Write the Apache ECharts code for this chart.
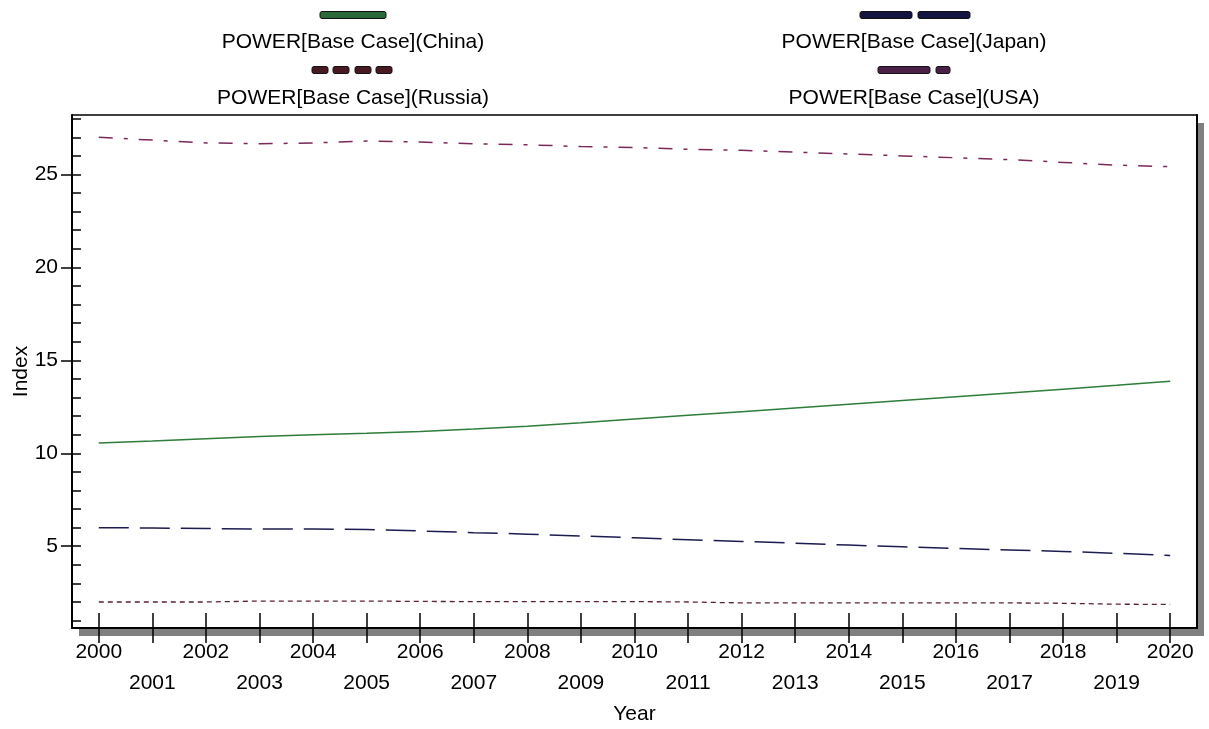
<!DOCTYPE html>
<html>
<head>
<meta charset="utf-8">
<script src="https://cdn.jsdelivr.net/npm/echarts@6/dist/echarts.min.js"></script>
<style>
html,body{margin:0;padding:0;background:#fff;}
#chart{width:1209px;height:729px;}
</style>
</head>
<body>
<div id="chart"></div>
<script>
const years = ['2000','2001','2002','2003','2004','2005','2006','2007','2008','2009','2010','2011','2012','2013','2014','2015','2016','2017','2018','2019','2020'];
const china = [10.55,10.66,10.78,10.9,11.0,11.08,11.17,11.3,11.46,11.64,11.84,12.04,12.24,12.44,12.64,12.84,13.04,13.24,13.45,13.66,13.88];
const japan = [6.0,5.98,5.95,5.93,5.92,5.9,5.82,5.73,5.65,5.55,5.45,5.35,5.26,5.16,5.06,4.97,4.88,4.8,4.72,4.62,4.5];
const russia = [2.0,2.0,2.0,2.05,2.05,2.05,2.03,2.02,2.02,2.02,2.02,2.0,1.95,1.95,1.95,1.95,1.95,1.95,1.93,1.88,1.87];
const usa = [27.0,26.85,26.7,26.65,26.7,26.8,26.75,26.65,26.6,26.5,26.45,26.35,26.3,26.2,26.1,26.0,25.9,25.8,25.65,25.5,25.42];
const seriesNames = ['POWER[Base Case](China)','POWER[Base Case](Japan)','POWER[Base Case](Russia)','POWER[Base Case](USA)'];
const yMajor = [5,10,15,20,25];
const yMinor = [1,2,3,4,5,6,7,8,9,10,11,12,13,14,15,16,17,18,19,20,21,22,23,24,25,26,27,28];

const FONT = 'Liberation Sans, Arial, sans-serif';
const FS = 21;
const chart = echarts.init(document.getElementById('chart'), null, {renderer:'canvas'});

const yMin = 0.6, yMax = 28.2;

function legendText(x, y, t){
  return {type:'text', x:x, y:y, style:{text:t, font:FS + 'px ' + FONT, fill:'#000', align:'center', verticalAlign:'middle'}};
}
function legendBar(x, y, w, color){
  return {type:'rect', shape:{x:x, y:y-3.5, width:w, height:7, r:2}, style:{fill:color, stroke:'#111', lineWidth:1}};
}

const option = {
  backgroundColor:'#fff',
  animation:false,
  textStyle:{fontFamily:FONT},
  grid:{left:72, right:12, top:115, bottom:101, show:true, backgroundColor:'#fff', borderWidth:0,
        shadowColor:'#808080', shadowBlur:0, shadowOffsetX:7, shadowOffsetY:8, containLabel:false,
        outerBoundsMode:'none'},
  xAxis:[
    {type:'category', data:years, boundaryGap:true, position:'bottom',
     axisLine:{show:true, lineStyle:{color:'#000', width:2}},
     axisTick:{show:true, alignWithLabel:true, interval:0, length:15, inside:false, lineStyle:{color:'#000', width:1.5}},
     axisLabel:{interval:0, fontSize:FS, color:'#000', fontFamily:FONT, margin:9, lineHeight:31,
       formatter:function(v, i){ return (i % 2) ? '\n' + v : v; }},
     splitLine:{show:false},
     name:'Year', nameLocation:'middle', nameGap:73, nameTextStyle:{fontSize:FS, color:'#000', fontFamily:FONT}},
    {type:'category', data:years, boundaryGap:true, position:'bottom',
     axisLine:{show:false},
     axisTick:{show:true, alignWithLabel:true, interval:0, length:15, inside:true, lineStyle:{color:'#000', width:1.5}},
     axisLabel:{show:false}, splitLine:{show:false}},
    {type:'category', data:years, boundaryGap:true, position:'top',
     axisLine:{show:true, lineStyle:{color:'#000', width:1.5}},
     axisTick:{show:false}, axisLabel:{show:false}, splitLine:{show:false}}
  ],
  yAxis:[
    {type:'value', min:yMin, max:yMax, position:'left',
     axisLine:{show:true, lineStyle:{color:'#000', width:2}},
     axisTick:{show:true, inside:true, length:9, customValues:yMinor, lineStyle:{color:'#000', width:1.5}},
     axisLabel:{show:false}, splitLine:{show:false}},
    {type:'value', min:yMin, max:yMax, position:'left',
     axisLine:{show:false},
     axisTick:{show:true, inside:false, length:11, customValues:yMajor, lineStyle:{color:'#000', width:1.5}},
     axisLabel:{show:true, customValues:yMajor, fontSize:FS, color:'#000', fontFamily:FONT, margin:14},
     splitLine:{show:false},
     name:'Index', nameLocation:'middle', nameGap:40, nameRotate:90, nameMoveOverlap:false,
     nameTextStyle:{fontSize:FS, color:'#000', fontFamily:FONT}},
    {type:'value', min:yMin, max:yMax, position:'right',
     axisLine:{show:true, lineStyle:{color:'#000', width:2}},
     axisTick:{show:false}, axisLabel:{show:false}, splitLine:{show:false}}
  ],
  series:[
    {name:seriesNames[0], type:'line', data:china, xAxisIndex:0, yAxisIndex:0, symbol:'none',
     lineStyle:{color:'#2f7d3a', width:1.5, type:'solid'}},
    {name:seriesNames[1], type:'line', data:japan, xAxisIndex:0, yAxisIndex:0, symbol:'none',
     lineStyle:{color:'#1c1c50', width:1.5, type:[30,11]}},
    {name:seriesNames[2], type:'line', data:russia, xAxisIndex:0, yAxisIndex:0, symbol:'none',
     lineStyle:{color:'#5a2035', width:1.3, type:[5,4]}},
    {name:seriesNames[3], type:'line', data:usa, xAxisIndex:0, yAxisIndex:0, symbol:'none',
     lineStyle:{color:'#7a2a5a', width:1.5, type:[14,11,4,11]}}
  ],
  graphic:[
    legendBar(320, 15, 66, '#2a6a3a'),
    legendText(353, 42, seriesNames[0]),
    legendBar(312, 70, 16, '#4a1a22'),
    legendBar(333, 70, 16, '#4a1a22'),
    legendBar(355, 70, 16, '#4a1a22'),
    legendBar(376, 70, 16, '#4a1a22'),
    legendText(353, 98, seriesNames[2]),
    legendBar(860, 15, 52, '#141440'),
    legendBar(918, 15, 52, '#141440'),
    legendText(914, 42, seriesNames[1]),
    legendBar(878, 70, 52, '#4a2048'),
    legendBar(936, 70, 14, '#4a2048'),
    legendText(914, 98, seriesNames[3])
  ]
};
chart.setOption(option);
</script>
</body>
</html>
